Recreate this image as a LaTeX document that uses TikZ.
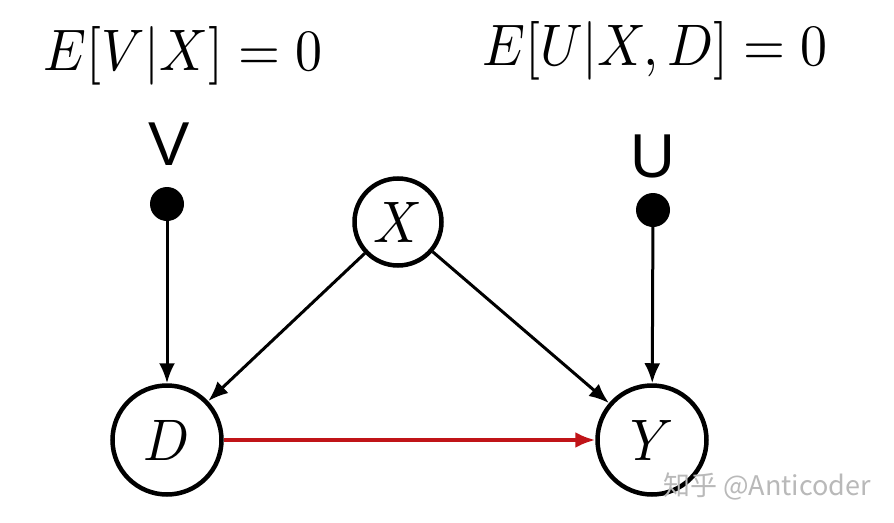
\documentclass[tikz,border=0pt]{standalone}
\usepackage{graphicx}
\usepackage{fontspec}
\newfontfamily\cjk{Noto Sans CJK SC}
\newfontfamily\lsans{Liberation Sans}
\usetikzlibrary{arrows.meta}
\definecolor{arrred}{RGB}{192,20,24}
\newcommand{\mybigmath}[1]{\scalebox{5.39}[5.86]{$#1$}}
\begin{document}
\begin{tikzpicture}[x=1pt,y=-1pt,
  var/.style={circle,draw,line width=4.5pt,inner sep=0pt,minimum size=109pt},
  dot/.style={circle,fill,inner sep=0pt,minimum size=34pt},
  arr/.style={line width=3pt,-{Latex[length=20pt,width=16pt]}},
  lbl/.style={inner sep=0pt,font=\lsans\fontsize{62}{64}\selectfont},
  eq/.style={inner sep=0pt,anchor=base west}]
\useasboundingbox[fill=white] (0,0) rectangle (894,522);
\node[eq] (e1) at (43,70) {\mybigmath{E[V|X]=0}};
\node[eq] (e2) at (482,65) {\mybigmath{E[U|X,D]=0}};
\node[var] (D) at (167,440) {\mybigmath{D}};
\node[var] (Y) at (652,440) {\mybigmath{Y}};
\node[var,minimum size=87pt] (X) at (398,222) {\mybigmath{X}};
\node[dot] (V) at (167,204) {};
\node[dot] (U) at (653,210) {};
\node[lbl] (Vl) at (169,144.5) {V};
\node[lbl] (Ul) at (653,156.5) {U};
\draw[arr] (V) -- (D);
\draw[arr] (U) -- (Y);
\draw[arr] (X) -- (D);
\draw[arr] (X) -- (Y);
\draw[arr,arrred,line width=3.5pt] (D) -- (Y);
\node[inner sep=0pt,anchor=base west,text=gray!55,font=\cjk\fontsize{27}{30}\selectfont] (wm) at (663,495) {知乎 @Anticoder};
\end{tikzpicture}
\end{document}
